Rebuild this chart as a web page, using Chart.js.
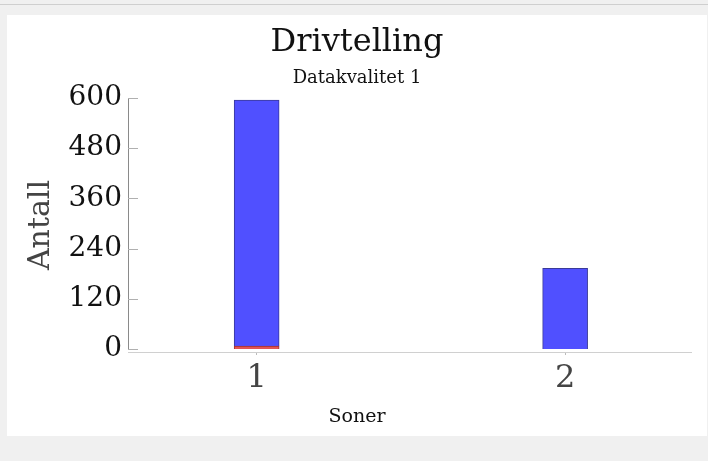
<!DOCTYPE html>
<html>
<head>
<meta charset="utf-8">
<script src="https://cdn.jsdelivr.net/npm/chart.js@4.4.0/dist/chart.umd.min.js"></script>
<style>
  html, body { margin: 0; padding: 0; background: #f0f0f0; width: 708px; height: 461px; overflow: hidden; }
  #topline { position: absolute; left: 0; top: 4px; width: 708px; height: 1px; background: #cfcfcf; }
  #panel { position: absolute; left: 7px; top: 15px; width: 700px; height: 421px; background: #ffffff; }
  canvas { display: block; }
</style>
</head>
<body>
<div id="topline"></div>
<div id="panel"><canvas id="c" width="700" height="421"></canvas></div>
<script>
// ---- data ----
const zones = [1, 2];
const redValues = [7, 0];
const blueValues = [588, 193];
const yTicks = [0, 120, 240, 360, 480, 600];
const titleText = 'Drivtelling';
const subtitleText = 'Datakvalitet 1';
const yTitle = 'Antall';
const xTitle = 'Soner';

// ---- axis ranges ----
const xMin = 0.583, xMax = 2.408;
const yMin = -7, yMax = 600;

const FONT = "'DejaVu Serif', 'Liberation Serif', serif";

const axisPlugin = {
  id: 'axisPlugin',
  afterDraw(chart) {
    const ctx = chart.ctx;
    const y = chart.scales.y;
    const left = chart.chartArea.left;
    ctx.save();
    // y axis line
    ctx.strokeStyle = '#8a8a8a';
    ctx.lineWidth = 1;
    ctx.beginPath();
    ctx.moveTo(left + 0.5, Math.round(y.getPixelForValue(yMax)));
    ctx.lineTo(left + 0.5, Math.round(y.getPixelForValue(0)) + 0.5);
    ctx.stroke();
    // inward ticks
    ctx.strokeStyle = '#b0b0b0';
    yTicks.forEach(v => {
      const py = Math.round(y.getPixelForValue(v)) + 0.5;
      ctx.beginPath();
      ctx.moveTo(left, py);
      ctx.lineTo(left + 10, py);
      ctx.stroke();
    });
    // x title centred on the full canvas
    ctx.fillStyle = '#111';
    ctx.font = "19px " + FONT;
    ctx.textAlign = 'center';
    ctx.textBaseline = 'alphabetic';
    ctx.fillText(xTitle, chart.width / 2, 407);
    ctx.restore();
  }
};

new Chart(document.getElementById('c'), {
  type: 'bar',
  data: {
    datasets: [
      {
        label: 'red',
        data: zones.map((z, i) => ({ x: z, y: redValues[i] })),
        backgroundColor: '#e25555',
        borderColor: '#a03030',
        borderWidth: 1,
        barThickness: 45
      },
      {
        label: 'blue',
        data: zones.map((z, i) => ({ x: z, y: blueValues[i] })),
        backgroundColor: '#5050ff',
        borderColor: '#3a3a9a',
        borderWidth: 1,
        barThickness: 45
      }
    ]
  },
  options: {
    responsive: false,
    animation: false,
    devicePixelRatio: 1,
    layout: { padding: { left: 16, right: 16, top: 0, bottom: 0 } },
    plugins: {
      legend: { display: false },
      tooltip: { enabled: false },
      title: {
        display: true,
        text: titleText,
        color: '#111',
        font: { family: FONT, size: 32, weight: 'normal' },
        padding: { top: 8, bottom: 0 }
      },
      subtitle: {
        display: true,
        text: subtitleText,
        color: '#111',
        font: { family: FONT, size: 18, weight: 'normal' },
        padding: { top: 6, bottom: 9 }
      }
    },
    scales: {
      x: {
        type: 'linear',
        stacked: true,
        offset: false,
        min: xMin,
        max: xMax,
        afterBuildTicks: s => { s.ticks = zones.map(v => ({ value: v })); },
        afterFit: s => { s.height = 84; },
        grid: { offset: false, drawOnChartArea: false, drawTicks: true, tickLength: 3, color: '#bbb' },
        border: { display: true, color: '#d0d0d0' },
        ticks: {
          color: '#444',
          font: { family: FONT, size: 32 },
          padding: 4,
          maxRotation: 0
        }
      },
      y: {
        stacked: true,
        min: yMin,
        max: yMax,
        afterBuildTicks: s => { s.ticks = yTicks.map(v => ({ value: v })); },
        afterFit: s => { s.width = 105; },
        grid: { display: false, drawTicks: false },
        border: { display: false },
        ticks: {
          color: '#111',
          font: { family: FONT, size: 28 },
          padding: 6
        },
        title: {
          display: true,
          text: yTitle,
          color: '#444',
          font: { family: FONT, size: 30 },
          padding: { top: 0, bottom: 0 }
        }
      }
    }
  },
  plugins: [axisPlugin]
});
</script>
</body>
</html>
